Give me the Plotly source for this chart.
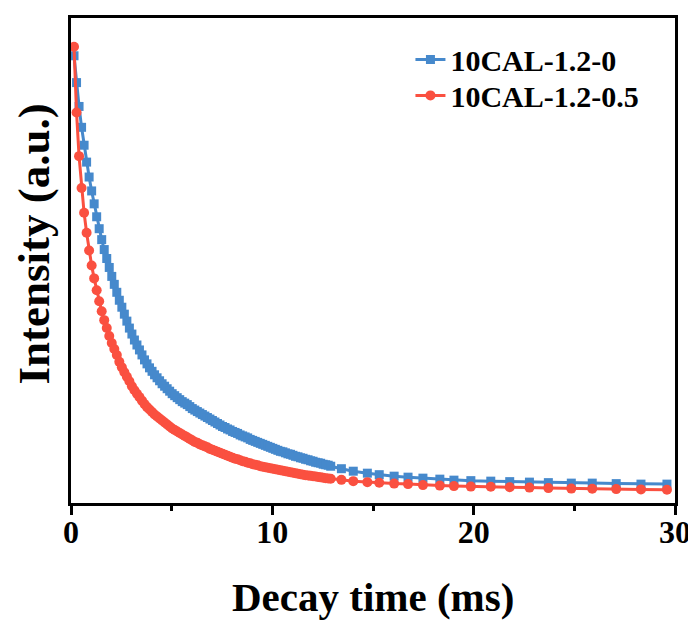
import plotly.graph_objects as go

# Decay time samples (ms)
time_ms = [
    0.150, 0.275, 0.400, 0.525, 0.650, 0.775, 0.900, 1.025, 1.150, 1.275,
    1.400, 1.525, 1.650, 1.775, 1.900, 2.025, 2.150, 2.275, 2.400, 2.525,
    2.650, 2.775, 2.900, 3.025, 3.150, 3.275, 3.400, 3.525, 3.650, 3.775,
    3.900, 4.025, 4.150, 4.275, 4.400, 4.525, 4.650, 4.775, 4.900, 5.025,
    5.150, 5.275, 5.400, 5.525, 5.650, 5.775, 5.900, 6.025, 6.150, 6.275,
    6.400, 6.525, 6.650, 6.775, 6.900, 7.025, 7.150, 7.275, 7.400, 7.525,
    7.650, 7.775, 7.900, 8.025, 8.150, 8.275, 8.400, 8.525, 8.650, 8.775,
    8.900, 9.025, 9.150, 9.275, 9.400, 9.525, 9.650, 9.775, 9.900, 10.025,
    10.150, 10.275, 10.400, 10.525, 10.650, 10.775, 10.900, 11.025, 11.150, 11.275,
    11.400, 11.525, 11.650, 11.775, 11.900, 12.025, 12.150, 12.275, 12.400, 12.525,
    12.650, 12.775, 12.900,
    13.43, 14.02, 14.72, 15.31, 16.05, 16.74, 17.48, 18.32, 19.02, 19.86,
    20.85, 21.79, 22.77, 23.71, 24.85, 25.89, 27.08, 28.31, 29.60,
]

# Intensity (a.u.) of sample 10CAL-1.2-0
intensity_0 = [
    451, 424, 400, 379, 361, 344, 329, 315, 302, 289,
    277, 266, 256, 247, 238, 229, 221, 213, 205, 198,
    191, 184, 177, 171, 165, 160, 155, 150, 145, 141,
    137, 133.5, 130, 127, 124, 121, 118.5, 116, 113.5, 111,
    109, 107, 105, 103, 101.5, 100, 98, 96, 94.5, 93,
    91.5, 90, 88.5, 87, 85.5, 84, 82.5, 81, 79.5, 78,
    77, 75.5, 74.5, 73, 72, 71, 69.5, 68.5, 67.5, 66.5,
    65, 64, 63, 62, 61, 60, 59, 58, 57, 56,
    55, 54, 53, 52.5, 51.5, 50.5, 50, 49, 48, 47.5,
    46.5, 46, 45, 44.5, 43.5, 43, 42, 41.5, 41, 40,
    39.5, 39, 38,
    35.5, 33, 31, 29.5, 28, 27, 26, 25, 24, 23.5,
    23, 22.5, 22, 21.5, 21, 21, 20.5, 20, 20,
]

# Intensity (a.u.) of sample 10CAL-1.2-0.5
intensity_05 = [
    460, 394, 350, 318, 293, 273, 255, 240, 227, 215,
    204, 194, 185, 177, 169, 162, 156, 150, 143, 137.5,
    132.5, 128, 123.5, 118.5, 114.5, 111, 107.5, 104, 100.5, 97.5,
    95, 92.5, 90, 88, 86, 84, 82, 80, 78, 76,
    74.5, 73, 71.5, 70, 68.5, 67, 65.5, 64, 62.5, 61.5,
    60, 59, 58, 57, 55.5, 54.5, 53.5, 52.5, 51.5, 50.5,
    49.5, 48.5, 47.5, 46.5, 45.5, 45, 44, 43, 42.5, 41.5,
    41, 40, 39.5, 39, 38, 37.5, 37, 36.5, 36, 35.5,
    35, 34.5, 34, 33.5, 33, 32.5, 32, 31.5, 31, 30.5,
    30, 29.5, 29, 28.7, 28.3, 28, 27.6, 27.2, 26.8, 26.4,
    26, 25.7, 25.4,
    24.3, 23, 22, 21.3, 20.5, 20, 19, 18.5, 18, 17.5,
    17.3, 16.8, 16.5, 16, 15.5, 15.3, 15, 14.7, 14.3,
]

series_names = ["10CAL-1.2-0", "10CAL-1.2-0.5"]
x_ticks = [0, 10, 20, 30]
x_minor_ticks = [5, 15, 25]

BLUE = "#4689CC"
RED = "#FA5040"
FONT = "Liberation Serif"

fig = go.Figure()
fig.add_trace(go.Scatter(
    x=time_ms, y=intensity_0, name=series_names[0], mode="lines+markers",
    line=dict(color=BLUE, width=3),
    marker=dict(symbol="square", size=9, color=BLUE),
    legend="legend",
))
fig.add_trace(go.Scatter(
    x=time_ms, y=intensity_05, name=series_names[1], mode="lines+markers",
    line=dict(color=RED, width=3),
    marker=dict(symbol="circle", size=10, color=RED),
    legend="legend2",
))

legend_font = dict(family=FONT, size=30, color="black", weight="bold")

fig.update_layout(
    width=696, height=621,
    margin=dict(l=63, r=29, t=7, b=126),
    plot_bgcolor="white", paper_bgcolor="white",
    font=dict(family=FONT, color="black"),
    showlegend=True,
    legend=dict(
        x=0.562, y=0.968, xanchor="left", yanchor="top",
        font=legend_font, bgcolor="rgba(0,0,0,0)",
    ),
    legend2=dict(
        x=0.562, y=0.894, xanchor="left", yanchor="top",
        font=legend_font, bgcolor="rgba(0,0,0,0)",
    ),
    xaxis=dict(
        range=[0, 30], tickvals=x_ticks, ticktext=[str(v) for v in x_ticks],
        showline=True, linecolor="black", linewidth=3, mirror=True,
        ticks="outside", ticklen=9, tickwidth=3, tickcolor="black",
        ticklabelstandoff=-10,
        minor=dict(tickvals=x_minor_ticks, ticks="outside", ticklen=5, tickwidth=3, tickcolor="black"),
        tickfont=dict(family=FONT, size=32, color="black", weight="bold"),
        showgrid=False, zeroline=False,
    ),
    yaxis=dict(
        range=[1, 489],
        showline=True, linecolor="black", linewidth=3, mirror=True,
        ticks="", showticklabels=False,
        showgrid=False, zeroline=False,
    ),
    annotations=[
        dict(text="Decay time (ms)", xref="paper", yref="paper", x=0.5, y=-0.194,
             xanchor="center", yanchor="middle", showarrow=False,
             font=dict(family=FONT, size=41, color="black", weight="bold")),
        dict(text="Intensity (a.u.)", xref="paper", yref="paper", x=-0.062, y=0.534,
             xanchor="center", yanchor="middle", showarrow=False, textangle=-90,
             font=dict(family=FONT, size=45, color="black", weight="bold")),
    ],
)

fig.write_html("out.html")
